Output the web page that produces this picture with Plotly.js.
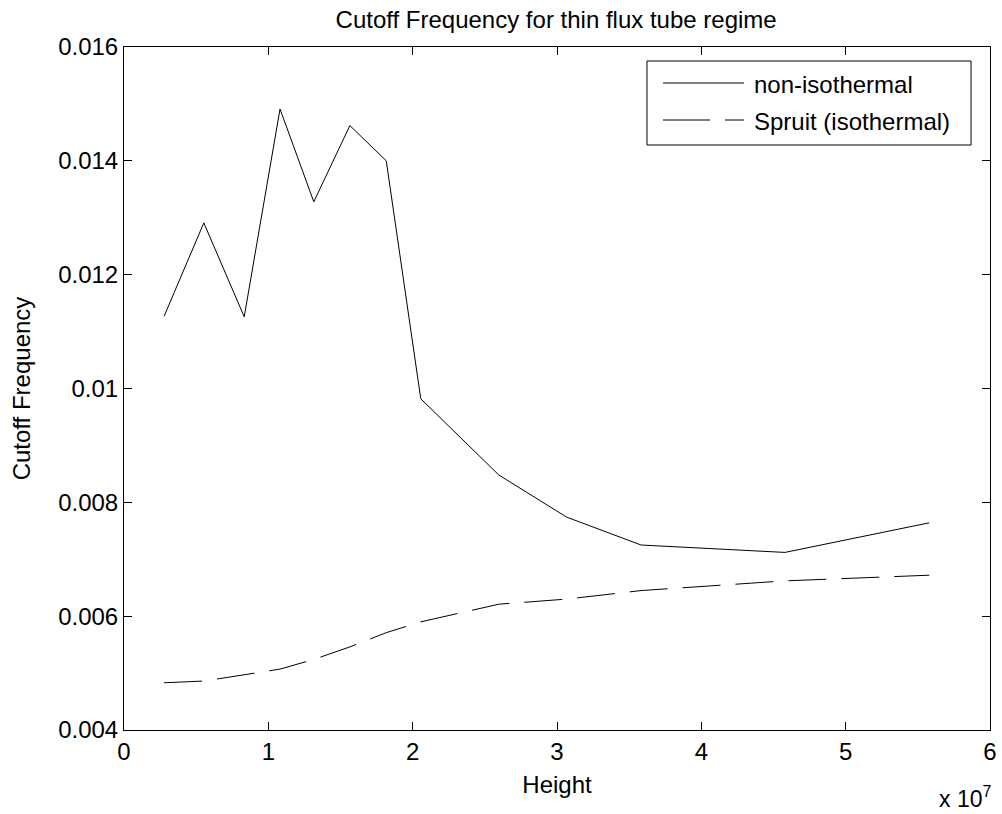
<!DOCTYPE html>
<html>
<head>
<meta charset="utf-8">
<script src="https://cdn.plot.ly/plotly-3.0.1.min.js"></script>
<style>html,body{margin:0;padding:0;background:#fff;}#chart{width:1002px;height:814px;}</style>
</head>
<body>
<div id="chart"></div>
<script>
// Height in units of 1e7
var height = [0.278, 0.553, 0.833, 1.081, 1.315, 1.565, 1.817, 2.056, 2.597, 3.067, 3.583, 4.579, 5.579];
var nonIsothermal = [0.01127, 0.01291, 0.01126, 0.01491, 0.01328, 0.01462, 0.01400, 0.00982, 0.00848, 0.00774, 0.00725, 0.00712, 0.00764];
var spruitIsothermal = [0.00483, 0.00486, 0.00497, 0.00507, 0.00524, 0.00546, 0.00571, 0.00590, 0.00621, 0.00630, 0.00645, 0.00662, 0.00672];
var seriesNames = ['non-isothermal', 'Spruit (isothermal)'];
var yTickVals = [0.004, 0.006, 0.008, 0.010, 0.012, 0.014, 0.016];
var yTickText = ['0.004', '0.006', '0.008', '0.01', '0.012', '0.014', '0.016'];
var xTickVals = [0, 1, 2, 3, 4, 5, 6];

var font = 'Liberation Sans, Arial, Helvetica, sans-serif';
var dashPattern = '38px,15px';
var traces = [
  {x: height, y: nonIsothermal, type: 'scatter', mode: 'lines', name: seriesNames[0],
   line: {color: '#000', width: 1}},
  {x: height, y: spruitIsothermal, type: 'scatter', mode: 'lines', name: seriesNames[1],
   line: {color: '#000', width: 1, dash: dashPattern}}
];
var axisCommon = {showline: true, linecolor: '#000', linewidth: 1, mirror: 'ticks', ticks: 'inside',
  ticklen: 8, tickcolor: '#000', tickwidth: 1, showgrid: false, zeroline: false,
  tickfont: {family: font, size: 24, color: '#000'}};

// Legend box (drawn in paper coordinates, MATLAB-style)
var lg = {x0: 0.6039, x1: 0.9781, y0: 0.8565, y1: 0.9795, lx0: 0.6224, lx1: 0.7159, tx: 0.7252,
  rows: [0.9473, 0.8931], textRows: [0.9444, 0.8902]};
var shapes = [
  {type: 'rect', xref: 'paper', yref: 'paper', x0: lg.x0, x1: lg.x1, y0: lg.y0, y1: lg.y1,
   line: {color: '#000', width: 1}, fillcolor: '#fff', layer: 'above'},
  {type: 'line', xref: 'paper', yref: 'paper', x0: lg.lx0, x1: lg.lx1, y0: lg.rows[0], y1: lg.rows[0],
   line: {color: '#000', width: 1}, layer: 'above'},
  {type: 'line', xref: 'paper', yref: 'paper', x0: lg.lx0, x1: lg.lx1, y0: lg.rows[1], y1: lg.rows[1],
   line: {color: '#000', width: 1, dash: '47px,15px'}, layer: 'above'}
];
var annotations = [
  {xref: 'paper', yref: 'paper', x: lg.tx, xanchor: 'left', y: lg.textRows[0], yanchor: 'middle',
   text: seriesNames[0], showarrow: false, font: {family: font, size: 24, color: '#000'}},
  {xref: 'paper', yref: 'paper', x: lg.tx, xanchor: 'left', y: lg.textRows[1], yanchor: 'middle',
   text: seriesNames[1], showarrow: false, font: {family: font, size: 24, color: '#000'}},
  {xref: 'paper', yref: 'paper', x: 1.004, xanchor: 'right', y: -0.098, yanchor: 'middle',
   text: 'x 10<sup>7</sup>', showarrow: false, font: {family: font, size: 23, color: '#000'}}
];
var layout = {
  width: 1002, height: 814,
  margin: {l: 124, r: 12, t: 47, b: 84},
  paper_bgcolor: '#fff', plot_bgcolor: '#fff',
  font: {family: font, color: '#000'},
  title: {text: 'Cutoff Frequency for thin flux tube regime', font: {family: font, size: 24, color: '#000'},
    x: 0.555, xanchor: 'center', y: 0.976, yanchor: 'middle'},
  xaxis: Object.assign({}, axisCommon, {range: [0, 6], tickvals: xTickVals, ticktext: xTickVals.map(String),
    title: {text: 'Height', font: {family: font, size: 24, color: '#000'}, standoff: 12}}),
  yaxis: Object.assign({}, axisCommon, {range: [0.004, 0.016], tickvals: yTickVals, ticktext: yTickText,
    title: {text: 'Cutoff Frequency', font: {family: font, size: 24, color: '#000'}, standoff: 20}}),
  showlegend: false,
  shapes: shapes,
  annotations: annotations
};
Plotly.newPlot('chart', traces, layout, {displayModeBar: false, staticPlot: true});
</script>
</body>
</html>
